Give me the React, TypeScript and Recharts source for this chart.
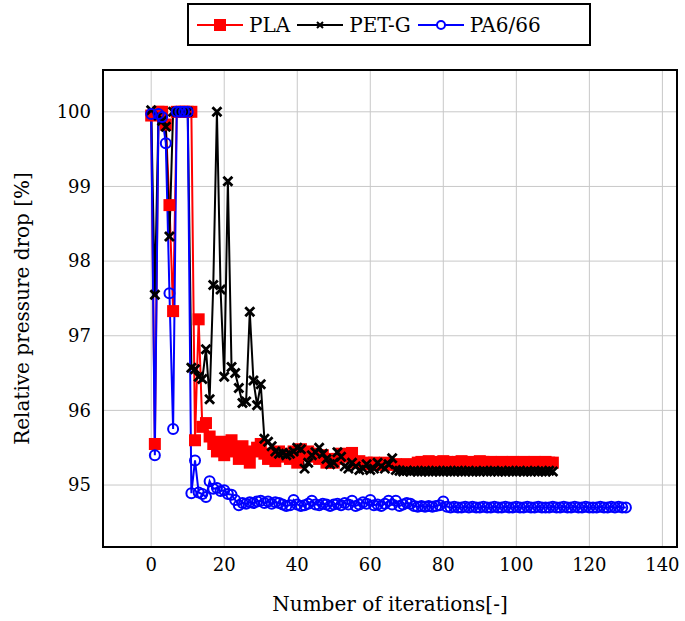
import { LineChart, Line, XAxis, YAxis, CartesianGrid, ReferenceArea } from "recharts"

// relative pressure drop [%] per iteration, index = iteration number
const plaPressure = [
  99.95, 95.55, 100, 100, 99.83, 98.75, 97.33, 100, 100, 100, 100, 100, 95.6, 97.22, 95.78, 95.83,
  95.65, 95.55, 95.45, 95.58, 95.4, 95.5, 95.6, 95.45, 95.35, 95.52, 95.4, 95.3, 95.45, 95.5, 95.55,
  95.42, 95.35, 95.4, 95.32, 95.45, 95.38, 95.42, 95.35, 95.45, 95.3, 95.48, 95.4, 95.45, 95.38,
  95.42, 95.35, 95.4, 95.3, 95.35, 95.3, 95.35, 95.42, 95.38, 95.4, 95.43, 95.3, 95.32, 95.28, 95.3,
  95.28, 95.3, 95.27, 95.28, 95.3, 95.28, 95.27, 95.28, 95.26, 95.27, 95.28, 95.26, 95.27, 95.3,
  95.31, 95.3, 95.32, 95.3, 95.31, 95.3, 95.32, 95.31, 95.3, 95.3, 95.31, 95.32, 95.3, 95.31, 95.3,
  95.3, 95.32, 95.31, 95.3, 95.31, 95.3, 95.3, 95.31, 95.3, 95.3, 95.31, 95.3, 95.3, 95.31, 95.3,
  95.3, 95.31, 95.3, 95.3, 95.31, 95.3, 95.3,
]

const petgPressure = [
  100.02, 97.55, 99.95, 99.88, 99.8, 98.33, 100, 100, 100, 100, 100, 96.57, 96.55, 96.45, 96.42,
  96.82, 96.15, 97.68, 100, 97.62, 96.45, 99.07, 96.58, 96.5, 96.3, 96.1, 96.12, 97.32, 96.4, 96.07,
  96.35, 95.62, 95.58, 95.52, 95.45, 95.42, 95.43, 95.4, 95.42, 95.45, 95.5, 95.48, 95.22, 95.3,
  95.4, 95.44, 95.5, 95.42, 95.35, 95.28, 95.3, 95.44, 95.38, 95.25, 95.22, 95.3, 95.25, 95.2, 95.22,
  95.28, 95.2, 95.22, 95.3, 95.25, 95.22, 95.28, 95.36, 95.2, 95.19, 95.18, 95.19, 95.18, 95.19,
  95.18, 95.18, 95.19, 95.18, 95.18, 95.19, 95.18, 95.18, 95.19, 95.18, 95.18, 95.19, 95.18, 95.18,
  95.19, 95.18, 95.18, 95.18, 95.19, 95.18, 95.18, 95.19, 95.18, 95.18, 95.18, 95.19, 95.18, 95.18,
  95.19, 95.18, 95.18, 95.18, 95.19, 95.18, 95.18, 95.18, 95.19, 95.18,
]

const paPressure = [
  99.97, 95.4, 99.97, 99.93, 99.58, 97.57, 95.75, 100, 100, 100, 100, 94.89, 95.33, 94.9, 94.88,
  94.84, 95.05, 94.95, 94.96, 94.92, 94.93, 94.88, 94.87, 94.8, 94.73, 94.76, 94.75, 94.77, 94.76,
  94.78, 94.79, 94.76, 94.78, 94.75, 94.77, 94.76, 94.74, 94.72, 94.73, 94.8, 94.74, 94.72, 94.73,
  94.75, 94.79, 94.74, 94.73, 94.75, 94.74, 94.72, 94.74, 94.75, 94.73, 94.76, 94.74, 94.79, 94.72,
  94.74, 94.77, 94.75, 94.8, 94.73, 94.74, 94.72, 94.75, 94.79, 94.74, 94.79, 94.72, 94.74, 94.76,
  94.75, 94.72, 94.71, 94.72, 94.71, 94.72, 94.71, 94.72, 94.73, 94.78, 94.71, 94.7, 94.71, 94.7,
  94.7, 94.71, 94.7, 94.71, 94.7, 94.7, 94.71, 94.7, 94.7, 94.71, 94.7, 94.7, 94.71, 94.7, 94.7,
  94.71, 94.7, 94.7, 94.71, 94.7, 94.7, 94.71, 94.7, 94.7, 94.7, 94.71, 94.7, 94.7, 94.71, 94.7,
  94.7, 94.71, 94.7, 94.7, 94.71, 94.7, 94.7, 94.7, 94.71, 94.7, 94.7, 94.71, 94.7, 94.71, 94.7,
  94.7,
]

const xTicks = [0, 20, 40, 60, 80, 100, 120, 140]
const yTicks = [95, 96, 97, 98, 99, 100]

const X_MIN = -13.2
const X_MAX = 144
const Y_MIN = 94.17
const Y_MAX = 100.56

const FONT = "DejaVu Serif"
const RED = "#ff0000"
const BLUE = "#0000ff"

const toPoints = (values: number[]) => values.map((v, i) => ({ iteration: i, drop: v }))

const plaData = toPoints(plaPressure)
const petgData = toPoints(petgPressure)
const paData = toPoints(paPressure)

const squareDot = (props: any) => {
  const { cx, cy, index } = props
  if (cx == null || cy == null) return <g key={`pla-${index}`} />
  return <rect key={`pla-${index}`} x={cx - 6} y={cy - 6} width={12} height={12} fill={RED} />
}

const crossDot = (props: any) => {
  const { cx, cy, index } = props
  if (cx == null || cy == null) return <g key={`petg-${index}`} />
  const s = 4.5
  return (
    <path
      key={`petg-${index}`}
      d={`M${cx - s},${cy - s}L${cx + s},${cy + s}M${cx - s},${cy + s}L${cx + s},${cy - s}`}
      stroke="#000"
      strokeWidth={2.8}
      fill="none"
    />
  )
}

const circleDot = (props: any) => {
  const { cx, cy, index } = props
  if (cx == null || cy == null) return <g key={`pa-${index}`} />
  return <circle key={`pa-${index}`} cx={cx} cy={cy} r={5} fill="none" stroke={BLUE} strokeWidth={2} />
}

function LegendBox() {
  const item = (marker: React.ReactNode, color: string, label: string) => (
    <div style={{ display: "flex", alignItems: "center", marginRight: 7 }}>
      <svg width={46} height={20}>
        <line x1={0} y1={10} x2={46} y2={10} stroke={color} strokeWidth={2} />
        {marker}
      </svg>
      <span style={{ marginLeft: 6, fontSize: 20, fontFamily: FONT }}>{label}</span>
    </div>
  )
  return (
    <div
      style={{
        position: "absolute",
        left: 187,
        top: 3,
        width: 404,
        height: 43,
        border: "2px solid #000",
        display: "flex",
        alignItems: "center",
        paddingLeft: 8,
        boxSizing: "border-box",
        background: "#fff",
      }}
    >
      {item(<rect x={17} y={4} width={12} height={12} fill={RED} />, RED, "PLA")}
      {item(<path d="M20,7L26,13M20,13L26,7" stroke="#000" strokeWidth={2} />, "#000", "PET-G")}
      {item(<circle cx={23} cy={10} r={4} fill="#fff" stroke={BLUE} strokeWidth={2} />, BLUE, "PA6/66")}
    </div>
  )
}

export default function App() {
  const tickStyle = { fill: "#000", fontSize: 18, fontFamily: FONT }
  return (
    <div style={{ position: "absolute", left: 0, top: 0, width: 685, height: 621, background: "#fff" }}>
      <LineChart width={685} height={621} margin={{ top: 70, right: 8, left: 8, bottom: 0 }}>
        <CartesianGrid stroke="#c8c8c8" strokeWidth={1} />
        <XAxis
          type="number"
          dataKey="iteration"
          domain={[X_MIN, X_MAX]}
          ticks={xTicks}
          allowDataOverflow
          height={74}
          tickLine={false}
          axisLine={false}
          tick={tickStyle}
          tickMargin={5}
          label={{
            value: "Number of iterations[-]",
            position: "insideBottom",
            offset: 10,
            style: { fill: "#000", fontSize: 20, fontFamily: FONT },
          }}
        />
        <YAxis
          type="number"
          domain={[Y_MIN, Y_MAX]}
          ticks={yTicks}
          allowDataOverflow
          width={95}
          tickLine={false}
          axisLine={false}
          tick={tickStyle}
          tickMargin={6}
          label={{
            value: "Relative pressure drop [%]",
            angle: -90,
            position: "insideLeft",
            offset: 14,
            style: { fill: "#000", fontSize: 20, fontFamily: FONT, textAnchor: "middle" },
          }}
        />
        <ReferenceArea
          x1={X_MIN}
          x2={X_MAX}
          y1={Y_MIN}
          y2={Y_MAX}
          fill="none"
          fillOpacity={0}
          stroke="#000"
          strokeWidth={2}
          ifOverflow="visible"
        />
        <Line
          data={plaData}
          dataKey="drop"
          type="linear"
          stroke={RED}
          strokeWidth={2}
          dot={squareDot}
          activeDot={false}
          isAnimationActive={false}
        />
        <Line
          data={petgData}
          dataKey="drop"
          type="linear"
          stroke="#000"
          strokeWidth={2}
          dot={crossDot}
          activeDot={false}
          isAnimationActive={false}
        />
        <Line
          data={paData}
          dataKey="drop"
          type="linear"
          stroke={BLUE}
          strokeWidth={2}
          dot={circleDot}
          activeDot={false}
          isAnimationActive={false}
        />
      </LineChart>
      <LegendBox />
    </div>
  )
}
